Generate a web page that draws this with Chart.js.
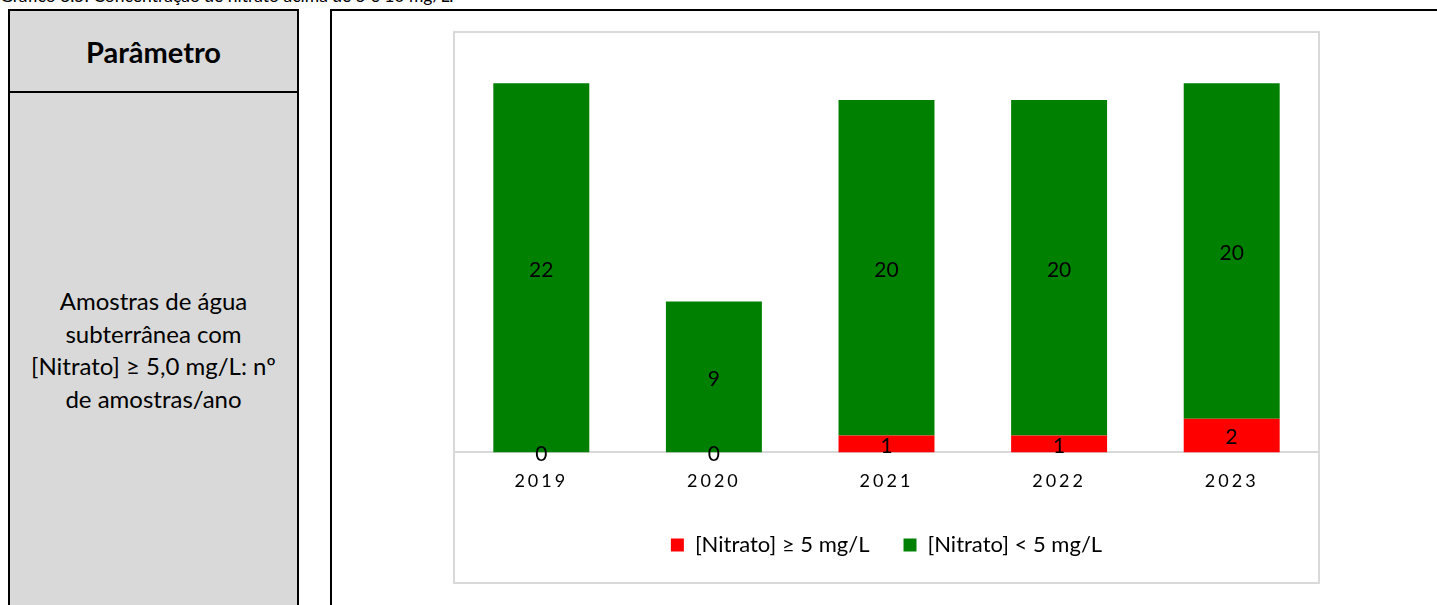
<!DOCTYPE html>
<html lang="pt">
<head>
<meta charset="utf-8">
<title>Concentração de nitrato</title>
<script src="https://cdn.jsdelivr.net/npm/chart.js@4/dist/chart.umd.min.js"></script>
<style>
  html, body { margin: 0; padding: 0; background: #fff; }
  body { width: 1437px; height: 605px; overflow: hidden; position: relative; font-family: Lato, "Open Sans", sans-serif; color: #000; }
  .caption { position: absolute; left: 0; top: -15px; font-size: 17.5px; line-height: 22px; white-space: nowrap; }
  .param { position: absolute; left: 8px; top: 9px; width: 287px; height: 700px; border: 2px solid #000; background: #d9d9d9; }
  .param .head { height: 80px; border-bottom: 2px solid #000; display: flex; align-items: center; justify-content: center; font-weight: bold; font-size: 29px; }
  .param .desc { position: absolute; left: 0; right: 0; top: 274px; text-align: center; font-size: 24px; line-height: 32.5px; }
  .cell { position: absolute; left: 330px; top: 9px; right: -10px; height: 700px; border-left: 2px solid #000; border-top: 2px solid #000; }
  .chartbox { position: absolute; left: 453px; top: 31px; width: 863px; height: 549px; border: 2px solid #d9d9d9; background: #fff; }
  .chartbox canvas { display: block; }
</style>
</head>
<body>
<div class="caption">Gráfico 3.5: Concentração de nitrato acima de 5 e 10 mg/L.</div>
<div class="param">
  <div class="head">Parâmetro</div>
  <div class="desc">Amostras de água<br>subterrânea com<br>[Nitrato] ≥ 5,0 mg/L: nº<br>de amostras/ano</div>
</div>
<div class="cell"></div>
<div class="chartbox"><canvas id="chart" width="863" height="549"></canvas></div>
<script>
// Sample counts per year
const years = ['2019', '2020', '2021', '2022', '2023'];
const aboveLimit = [0, 0, 1, 1, 2];      // [Nitrato] >= 5 mg/L
const belowLimit = [22, 9, 20, 20, 20];  // [Nitrato] < 5 mg/L
const seriesNames = ['[Nitrato] ≥ 5 mg/L', '[Nitrato] < 5 mg/L'];

const FONT = 'Lato, "Open Sans", sans-serif';

// Writes each segment's value in the middle of its bar
const segmentLabels = {
  id: 'segmentLabels',
  afterDatasetsDraw(chart) {
    const ctx = chart.ctx;
    ctx.save();
    ctx.font = '21px ' + FONT;
    ctx.fillStyle = '#000';
    ctx.textAlign = 'center';
    ctx.textBaseline = 'middle';
    chart.data.datasets.forEach((ds, di) => {
      const meta = chart.getDatasetMeta(di);
      meta.data.forEach((bar, i) => {
        const v = ds.data[i];
        ctx.fillText(String(v), bar.x, (bar.y + bar.base) / 2 + 2);
      });
    });
    ctx.restore();
  }
};

// Spaced-out year labels on the category axis
const spacedTicks = {
  id: 'spacedTicks',
  beforeDraw(chart) {
    const sc = chart.scales.x;
    if (sc.__spaced) return;
    const orig = sc.drawLabels;
    sc.drawLabels = function (area) {
      const c = this.ctx;
      c.save();
      c.letterSpacing = '3px';
      orig.call(this, area);
      c.restore();
    };
    sc.__spaced = true;
  }
};

new Chart(document.getElementById('chart'), {
  type: 'bar',
  data: {
    labels: years,
    datasets: [
      { label: seriesNames[0], data: aboveLimit, backgroundColor: '#ff0000', borderWidth: 0 },
      { label: seriesNames[1], data: belowLimit, backgroundColor: '#008000', borderWidth: 0 }
    ]
  },
  options: {
    responsive: false,
    animation: false,
    devicePixelRatio: 1,
    categoryPercentage: 0.556,
    barPercentage: 1,
    layout: { padding: { top: 0, left: 0, right: 0, bottom: 16 } },
    scales: {
      x: {
        stacked: true,
        grid: { display: false, drawTicks: false },
        border: { display: true, color: '#d9d9d9', width: 2 },
        ticks: { color: '#000', font: { family: FONT, size: 18 }, padding: 18 },
        afterFit(scale) { scale.height -= 10; }
      },
      y: {
        stacked: true,
        display: false,
        min: 0,
        max: 25
      }
    },
    plugins: {
      legend: {
        position: 'bottom',
        labels: {
          boxWidth: 13,
          boxHeight: 13,
          padding: 34,
          color: '#000',
          font: { family: FONT, size: 22 }
        }
      },
      tooltip: { enabled: false }
    }
  },
  plugins: [segmentLabels, spacedTicks]
});
</script>
</body>
</html>
